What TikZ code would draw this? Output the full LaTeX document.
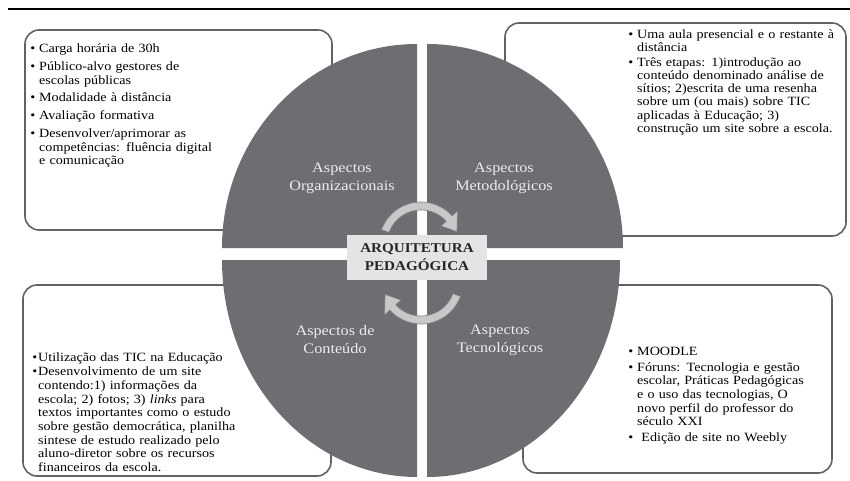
\documentclass[tikz,border=0pt]{standalone}
\usepackage{fontspec}
\setmainfont{Liberation Serif}[FakeStretch=1.12]
\usepackage{xcolor}
\usepackage{enumitem}
\usepackage{tikz}

\definecolor{quadgray}{RGB}{109,110,113}
\definecolor{framegray}{RGB}{98,98,100}
\definecolor{labelgray}{RGB}{236,236,236}
\definecolor{cyclefill}{RGB}{200,200,201}
\definecolor{cycleline}{RGB}{128,128,130}
\definecolor{titlefill}{RGB}{228,228,228}

\setlist[itemize]{leftmargin=9pt,labelsep=4pt,topsep=0pt,partopsep=0pt,parsep=0pt,itemsep=4pt}
\newcommand{\bodysize}{\fontsize{12.6}{13.7}\selectfont}

\tikzset{
  frame/.style={draw=framegray, line width=1.6pt, rounded corners=14pt},
  quad/.style={fill=quadgray},
  quadlabel/.style={text=labelgray, align=center, font=\fontsize{14.5}{18}\selectfont},
  notes/.style={anchor=north west, inner sep=0pt, align=left, font=\bodysize},
  cycle arrow/.style={fill=cyclefill, draw=cycleline, line width=0.6pt}
}

\begin{document}
\begin{tikzpicture}[x=1pt, y=1pt]
\useasboundingbox (0,0) rectangle (850,480);
\draw[line width=1.4pt] (8,471) -- (850,471);

\draw[frame] (25,450) rectangle (332,250);
\draw[frame] (505,457) rectangle (846,244);
\draw[frame] (23,195) rectangle (331,4);
\draw[frame] (523,195) rectangle (832,7);

\foreach \cx/\cy/\a/\rx/\ry in {417/232/90/195/204, 427/232/0/196/204, 417/220/180/195/217, 427/220/270/193/217}
  \fill[quad] (\cx,\cy) -- ++(\a:\rx pt and \ry pt)
    arc[start angle=\a, delta angle=90, x radius=\rx pt, y radius=\ry pt] -- cycle;

\begin{scope}[shift={(421,236)}]
  \filldraw[cycle arrow] (160:42pt) arc[start angle=160, end angle=42, radius=42pt]
    -- (42:49pt) -- (19:38pt) -- (42:27pt) -- (42:34pt)
    arc[start angle=42, end angle=160, radius=34pt] -- cycle;
\end{scope}
\begin{scope}[shift={(421,198)}]
  \filldraw[cycle arrow] (-20:42pt) arc[start angle=-20, end angle=-138, radius=42pt]
    -- (-138:49pt) -- (-161:38pt) -- (-138:27pt) -- (-138:34pt)
    arc[start angle=-138, end angle=-20, radius=34pt] -- cycle;
\end{scope}

\node[fill=titlefill, minimum width=140pt, minimum height=45pt, align=center, text=black!85,
  font=\bfseries\fontsize{13.5}{18}\selectfont] (arq) at (417,222.5) {ARQUITETURA\\PEDAGÓGICA};

\node[quadlabel] (org) at (342,302) {Aspectos\\Organizacionais};
\node[quadlabel] (met) at (504,302) {Aspectos\\Metodológicos};
\node[quadlabel] (con) at (335,140) {Aspectos de\\Conteúdo};
\node[quadlabel] (tec) at (500,140) {Aspectos\\Tecnológicos};

\node[notes, text width=200pt] (orgnotes) at (30,441) {%
\begin{itemize}[itemsep=4pt]
\item Carga horária de 30h
\item Público-alvo gestores de\\escolas públicas
\item Modalidade à distância
\item Avaliação formativa
\item Desenvolver/aprimorar as\\competências: fluência digital\\e comunicação
\end{itemize}};

\node[notes, text width=215pt, font=\fontsize{12.6}{13.2}\selectfont] (metnotes) at (628,455) {%
\begin{itemize}[itemsep=1.5pt]
\item Uma aula presencial e o restante à\\distância
\item Três etapas: 1)introdução ao\\conteúdo denominado análise de\\sítios; 2)escrita de uma resenha\\sobre um (ou mais) sobre TIC\\aplicadas à Educação; 3)\\construção um site sobre a escola.
\end{itemize}};

\node[notes, text width=205pt] (connotes) at (32,132) {%
\begin{itemize}[leftmargin=6pt, labelsep=1pt, itemsep=0pt]
\item Utilização das TIC na Educação
\item Desenvolvimento de um site\\contendo:1) informações da\\escola; 2) fotos; 3) \textit{links} para\\textos importantes como o estudo\\sobre gestão democrática, planilha\\sintese de estudo realizado pelo\\aluno-diretor sobre os recursos\\financeiros da escola.
\end{itemize}};

\node[notes, text width=190pt] (tecnotes) at (627,138) {%
\begin{itemize}[leftmargin=10pt, itemsep=1.5pt]
\item MOODLE
\item Fóruns: Tecnologia e gestão\\escolar, Práticas Pedagógicas\\e o uso das tecnologias, O\\novo perfil do professor do\\século XXI
\item \ Edição de site no Weebly
\end{itemize}};
\end{tikzpicture}
\end{document}
